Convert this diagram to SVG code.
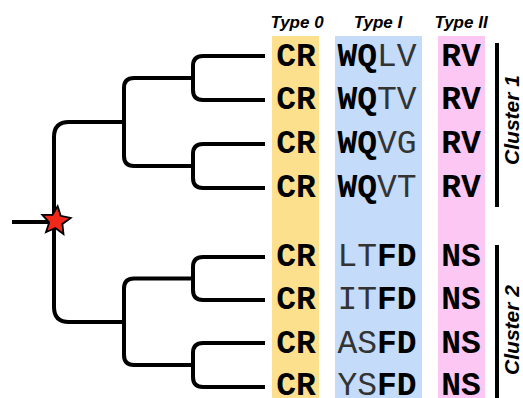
<svg xmlns="http://www.w3.org/2000/svg" width="523" height="398" viewBox="0 0 523 398">
<style>
.br{fill:none;stroke:#000;stroke-width:4;stroke-linecap:butt;stroke-linejoin:round}
.hd{font-family:"Liberation Sans",Arial,sans-serif;font-weight:bold;font-style:italic;font-size:17px;fill:#000;text-anchor:middle}
.cl{font-family:"Liberation Sans",Arial,sans-serif;font-weight:bold;font-style:italic;font-size:21px;fill:#000;text-anchor:middle}
.sq{font-family:"Liberation Mono","Courier New",monospace;font-size:33px;text-anchor:middle;fill:#000}
.b{font-weight:bold;fill:#000}
.r{font-weight:normal;fill:#333}
</style>
<rect x="272" y="36" width="47" height="362" fill="#fde08e"/>
<rect x="335" y="36" width="87" height="362" fill="#c4dcfa"/>
<rect x="438" y="36" width="47" height="362" fill="#fcc7f2"/>
<g id="connectors">
<path class="br" d="M12,222 H54"/>
<path class="br" d="M124,122 H69 Q54,122 54,137 V307 Q54,322 69,322 H124"/>
<path class="br" d="M193,78 H134 Q124,78 124,88 V156 Q124,166 134,166 H193"/>
<path class="br" d="M193,278.5 H134 Q124,278.5 124,288.5 V355 Q124,365 134,365 H193"/>
<path class="br" d="M265,56 H203 Q193,56 193,66 V90 Q193,100 203,100 H265"/>
<path class="br" d="M265,144 H203 Q193,144 193,154 V178 Q193,188 203,188 H265"/>
<path class="br" d="M265,257 H203 Q193,257 193,267 V290 Q193,300 203,300 H265"/>
<path class="br" d="M265,343 H203 Q193,343 193,353 V377 Q193,387 203,387 H265"/>
<path class="br" d="M497,43 V207"/>
<path class="br" d="M497,245 V398"/>
</g>
<g id="star">
<polygon points="57.6,206.1 60.7,215.8 70.7,217.9 62.4,223.9 63.5,234 55.3,228 46,232.2 49.2,222.5 42.3,214.9 52.5,214.9" fill="#f0281a" stroke="#000" stroke-width="1.8" stroke-linejoin="miter"/>
</g>
<g id="headers">
<text class="hd" x="297" y="28">Type 0</text>
<text class="hd" x="378" y="28">Type I</text>
<text class="hd" x="461" y="28">Type II</text>
</g>
<g id="cluster1"><text class="cl" transform="translate(519,120) rotate(-90)">Cluster 1</text></g>
<g id="cluster2"><text class="cl" transform="translate(519,330) rotate(-90)">Cluster 2</text></g>
<g id="row1"><text class="sq" y="66"><tspan class="b" x="296">CR</tspan></text><text class="sq" x="377" y="66"><tspan class="b">WQ</tspan><tspan class="r">LV</tspan></text><text class="sq b" x="461" y="66">RV</text></g>
<g id="row2"><text class="sq" y="109"><tspan class="b" x="296">CR</tspan></text><text class="sq" x="377" y="109"><tspan class="b">WQ</tspan><tspan class="r">TV</tspan></text><text class="sq b" x="461" y="109">RV</text></g>
<g id="row3"><text class="sq" y="153"><tspan class="b" x="296">CR</tspan></text><text class="sq" x="377" y="153"><tspan class="b">WQ</tspan><tspan class="r">VG</tspan></text><text class="sq b" x="461" y="153">RV</text></g>
<g id="row4"><text class="sq" y="197"><tspan class="b" x="296">CR</tspan></text><text class="sq" x="377" y="197"><tspan class="b">WQ</tspan><tspan class="r">VT</tspan></text><text class="sq b" x="461" y="197">RV</text></g>
<g id="row5"><text class="sq" y="266"><tspan class="b" x="296">CR</tspan></text><text class="sq" x="377" y="266"><tspan class="r">LT</tspan><tspan class="b">FD</tspan></text><text class="sq b" x="461" y="266">NS</text></g>
<g id="row6"><text class="sq" y="309"><tspan class="b" x="296">CR</tspan></text><text class="sq" x="377" y="309"><tspan class="r">IT</tspan><tspan class="b">FD</tspan></text><text class="sq b" x="461" y="309">NS</text></g>
<g id="row7"><text class="sq" y="353"><tspan class="b" x="296">CR</tspan></text><text class="sq" x="377" y="353"><tspan class="r">AS</tspan><tspan class="b">FD</tspan></text><text class="sq b" x="461" y="353">NS</text></g>
<g id="row8"><text class="sq" y="395"><tspan class="b" x="296">CR</tspan></text><text class="sq" x="377" y="395"><tspan class="r">YS</tspan><tspan class="b">FD</tspan></text><text class="sq b" x="461" y="395">NS</text></g>
</svg>
